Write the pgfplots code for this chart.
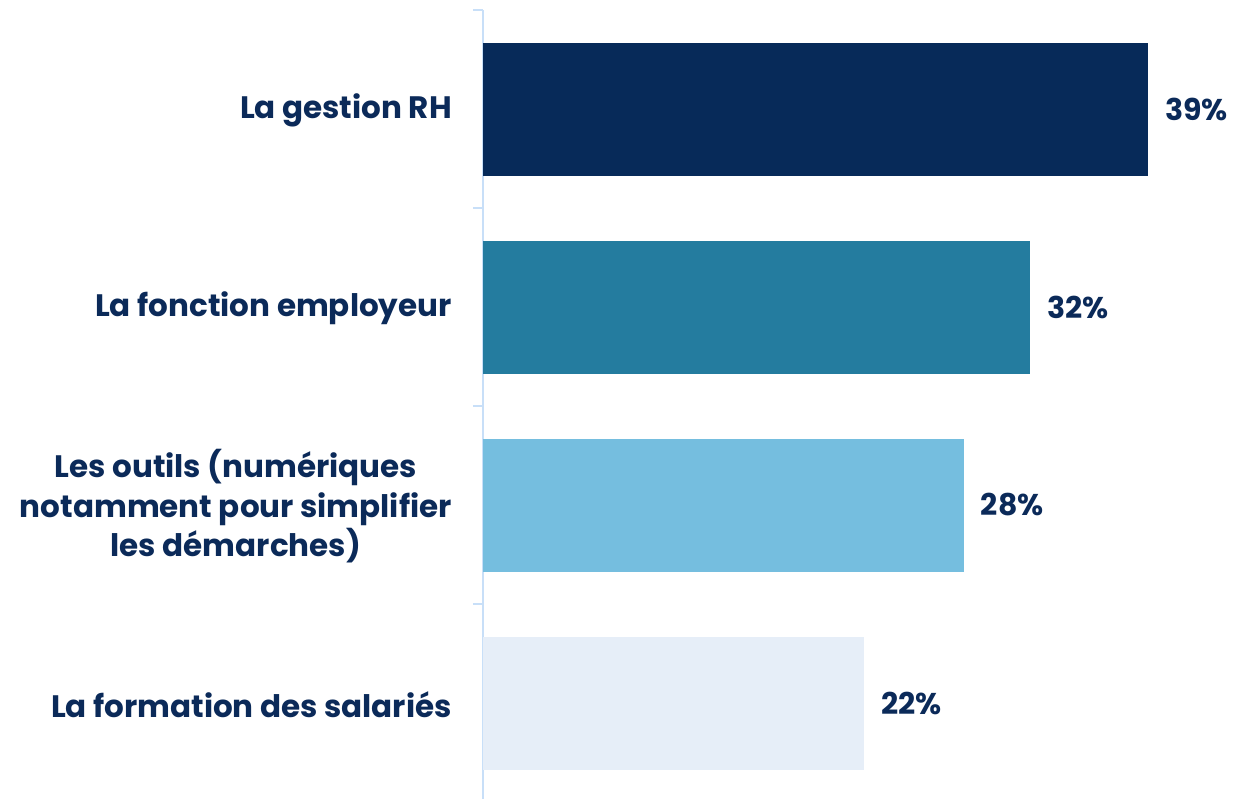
\documentclass[border=0pt]{standalone}
\usepackage{fontspec}
\setmainfont{Poppins}
\usepackage{pgfplots}
\pgfplotsset{compat=1.18}
\definecolor{navy}{HTML}{0B2A59}
\definecolor{c1}{HTML}{072A59}
\definecolor{c2}{HTML}{247C9F}
\definecolor{c3}{HTML}{75BEDF}
\definecolor{c4}{HTML}{E6EEF8}
\definecolor{axl}{HTML}{C8DFF8}
\begin{document}
\begin{tikzpicture}[x=1pt,y=1pt]
\useasboundingbox (0,0) rectangle (1245,798);
\begin{axis}[
  at={(483pt,-4pt)}, anchor=south west,
  scale only axis, width=762pt, height=792pt,
  xmin=0, xmax=44.7, ymin=-0.5, ymax=3.5, y dir=reverse,
  xbar, bar width=133pt, bar shift=0pt,
  hide x axis, axis y line*=left,
  y axis line style={axl, line width=2.5pt},
  ytick={0,1,2,3},
  yticklabels={La gestion RH, La fonction employeur, {Les outils (numériques\\notamment pour simplifier\\les démarches)}, La formation des salariés},
  major tick length=0pt,
  minor ytick={-0.5,0.5,1.5,2.5,3.5},
  minor tick length=10pt, tick align=outside,
  minor tick style={axl, line width=2.5pt},
  yticklabel style={font=\bfseries\fontsize{31}{39.5}\selectfont, color=navy, align=center, inner sep=0pt, xshift=-31pt, yshift=-1.5pt},
  /pgf/number format/assume math mode=true,
  nodes near coords={\pgfmathprintnumber[fixed,precision=0,assume math mode=true]{\pgfplotspointmeta}\%},
  nodes near coords style={font=\bfseries\fontsize{30}{36}\selectfont, color=navy, anchor=west, inner sep=0pt, xshift=17pt},
  clip=false,
]
\addplot[fill=c1, draw=none, bar shift=0pt] coordinates {(39,0)};
\addplot[fill=c2, draw=none, bar shift=0pt] coordinates {(32.1,1)};
\addplot[fill=c3, draw=none, bar shift=0pt] coordinates {(28.2,2)};
\addplot[fill=c4, draw=none, bar shift=0pt] coordinates {(22.35,3)};
\end{axis}
\end{tikzpicture}
\end{document}
